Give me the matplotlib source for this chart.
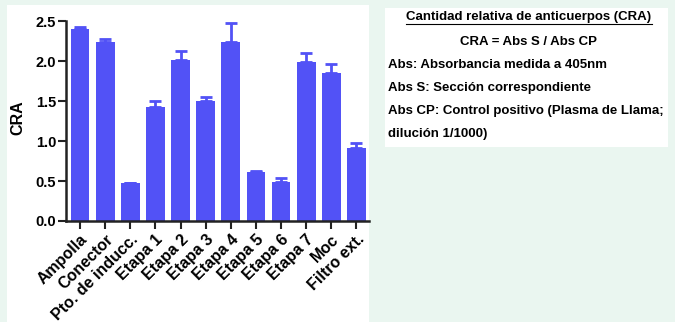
import matplotlib
matplotlib.use("Agg")
import matplotlib.pyplot as plt
from matplotlib.patches import Rectangle

categories = ["Ampolla", "Conector", "Pto. de inducc.", "Etapa 1", "Etapa 2", "Etapa 3",
              "Etapa 4", "Etapa 5", "Etapa 6", "Etapa 7", "Moc", "Filtro ext."]
values = [2.41, 2.24, 0.47, 1.43, 2.02, 1.51, 2.24, 0.615, 0.49, 1.99, 1.86, 0.915]
errors = [0.02, 0.04, 0.01, 0.07, 0.11, 0.04, 0.24, 0.01, 0.05, 0.12, 0.11, 0.06]
yticks = [0.0, 0.5, 1.0, 1.5, 2.0, 2.5]
ytick_labels = ["0.0", "0.5", "1.0", "1.5", "2.0", "2.5"]

info_title = "Cantidad relativa de anticuerpos (CRA)"
info_formula = "CRA = Abs S / Abs CP"
info_lines = ["Abs: Absorbancia medida a 405nm",
              "Abs S: Sección correspondiente",
              "Abs CP: Control positivo (Plasma de Llama;",
              "dilución 1/1000)"]

plt.rcParams['font.family'] = ['Liberation Sans', 'DejaVu Sans']
plt.rcParams['font.weight'] = 'bold'

W, H = 675, 322
fig = plt.figure(figsize=(W / 100, H / 100), dpi=100)
fig.patch.set_facecolor('#eaf6f0')

def fx(px):
    return px / W

def fy(py):
    return 1 - py / H

# white panels
fig.patches.append(Rectangle((fx(7), fy(322)), fx(369) - fx(7), fy(5) - fy(322),
                             transform=fig.transFigure, facecolor='white', edgecolor='none', zorder=-5))
fig.patches.append(Rectangle((fx(385), fy(147)), fx(668) - fx(385), fy(8) - fy(147),
                             transform=fig.transFigure, facecolor='white', edgecolor='none', zorder=-5))

# axes: left 66, right 369, top ~21.5 (2.5), bottom 221 (0)
ax = fig.add_axes([fx(66), fy(221), fx(369) - fx(66), fy(21.5) - fy(221)])
ax.set_zorder(5)
ax.set_facecolor('none')
color = '#5252f6'
x = list(range(len(categories)))
ax.bar(x, values, width=0.75, color=color, zorder=2)
ax.errorbar(x, values, yerr=[[0] * len(errors), errors], fmt='none', ecolor=color,
            elinewidth=2, capsize=4.6, capthick=2, zorder=1)
ax.set_xlim(-0.56, 11.5)
ax.set_ylim(0, 2.5)
ax.set_yticks(yticks)
ax.set_yticklabels(ytick_labels, fontsize=10.5, fontweight='bold')
ax.set_xticks(x)
ax.set_xticklabels(categories, rotation=45, ha='right', rotation_mode='anchor',
                   fontsize=11.5, fontweight='bold')
ax.tick_params(axis='both', width=1.5, length=5.5, color='#222222', pad=1.5)
ax.tick_params(axis='x', pad=2)
for s in ['top', 'right']:
    ax.spines[s].set_visible(False)
for s in ['left', 'bottom']:
    ax.spines[s].set_linewidth(1.8)
    ax.spines[s].set_color('#222222')
ax.set_ylabel('CRA', fontsize=11.5, fontweight='bold',
              family=['Liberation Sans Narrow', 'Liberation Sans', 'DejaVu Sans'])
ax.yaxis.set_label_coords(-0.135, 0.52)

# info text
fs = 9.5
cx = fx(529)
t = fig.text(cx, fy(17), info_title, ha='center', va='center', fontsize=fs, fontweight='bold')
fig.canvas.draw()
bb = t.get_window_extent()
fig.add_artist(plt.Line2D([bb.x0 / W, bb.x1 / W], [fy(24), fy(24)], transform=fig.transFigure,
                          color='black', linewidth=0.8))
fig.text(cx, fy(42), info_formula, ha='center', va='center', fontsize=fs, fontweight='bold')
for i, line in enumerate(info_lines):
    fig.text(fx(388), fy(65 + 23 * i), line, ha='left', va='center', fontsize=fs, fontweight='bold')

fig.savefig('out.png', dpi=100, facecolor=fig.get_facecolor())
